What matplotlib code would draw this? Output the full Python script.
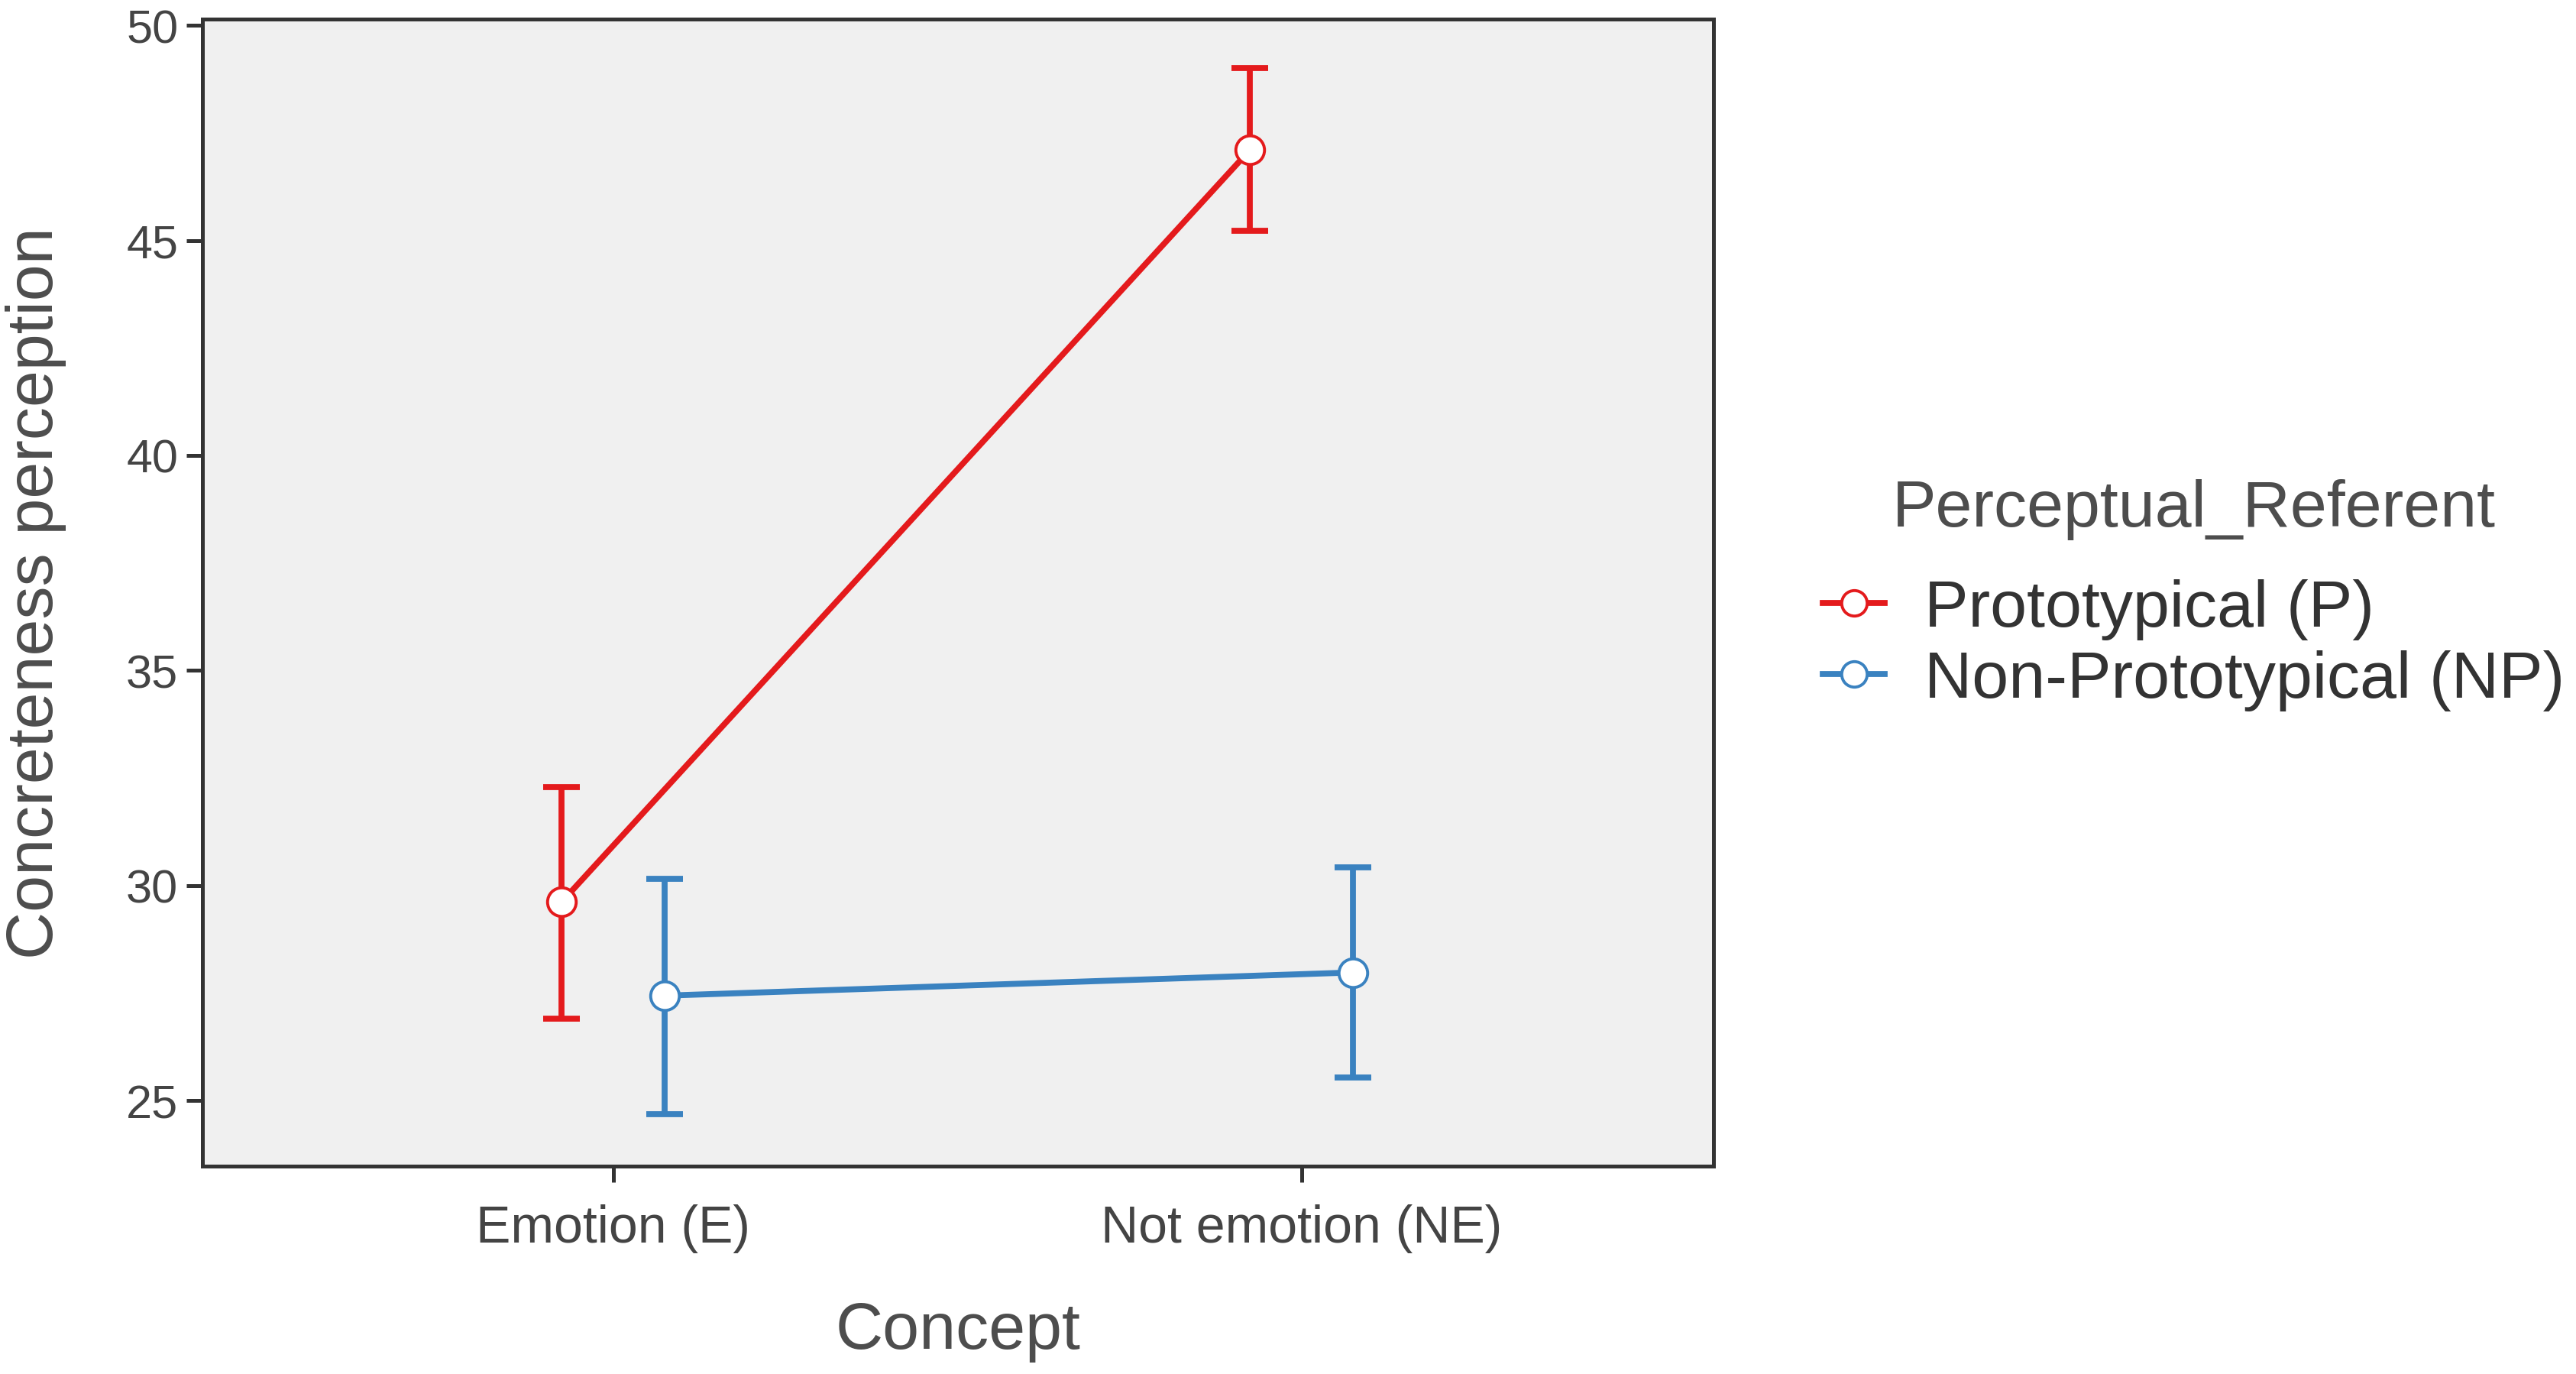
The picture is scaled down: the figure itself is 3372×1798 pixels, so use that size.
import numpy as np
import matplotlib
matplotlib.use('Agg')
import matplotlib.pyplot as plt
from matplotlib.lines import Line2D

plt.rcParams['font.family'] = ['Liberation Sans', 'DejaVu Sans']

concepts = ['Emotion (E)', 'Not emotion (NE)']
groups = ['Prototypical (P)', 'Non-Prototypical (NP)']
colors = ['#e41a1c', '#3a82c0']

# means and 95% CI bounds
p_mean = [29.62, 47.10]
p_low = [26.91, 45.23]
p_high = [32.29, 49.00]

np_mean = [27.44, 27.98]
np_low = [24.69, 25.53]
np_high = [30.15, 30.42]

means = [p_mean, np_mean]
lows = [p_low, np_low]
highs = [p_high, np_high]
dodge = [-0.075, 0.075]

fig = plt.figure(figsize=(16.865, 8.995), dpi=200)
ax = fig.add_axes([0.0786, 0.151, 0.665 - 0.0786, 0.9857 - 0.151])
ax.set_facecolor('#f0f0f0')

x = np.arange(len(concepts))
handles = []
for i in range(len(groups)):
    m = np.array(means[i])
    lo = m - np.array(lows[i])
    hi = np.array(highs[i]) - m
    xs = x + dodge[i]
    ax.errorbar(xs, m, yerr=[lo, hi], fmt='none', ecolor=colors[i],
                elinewidth=2.8, capsize=8.5, capthick=2.8, zorder=2)
    ax.plot(xs, m, color=colors[i], lw=2.8, zorder=3)
    ax.plot(xs, m, 'o', ms=13.5, mfc='white', mec=colors[i], mew=1.4, zorder=4)
    handles.append(Line2D([], [], color=colors[i], lw=2.8, marker='o', ms=12,
                          mfc='white', mec=colors[i], mew=1.4))

ax.set_xlim(-0.597, 1.599)
ax.set_ylim(23.47, 50.15)
ax.set_xticks(x)
ax.set_xticklabels(concepts)
ax.set_yticks([25, 30, 35, 40, 45, 50])

for s in ax.spines.values():
    s.set_color('#333333')
    s.set_linewidth(1.8)

ax.tick_params(axis='both', direction='out', length=7.5, width=1.8, color='#333333',
               labelcolor='#444444')
ax.tick_params(axis='y', labelsize=22, pad=4)
ax.tick_params(axis='x', labelsize=24.5, pad=10)

ax.set_xlabel('Concept', fontsize=31, color='#4d4d4d')
ax.set_ylabel('Concreteness perception', fontsize=31, color='#4d4d4d')
ax.xaxis.set_label_coords(0.5, -0.117)
ax.yaxis.set_label_coords(-0.090, 0.5)

leg = ax.legend(handles, groups, title='Perceptual_Referent', loc='center left',
                bbox_to_anchor=(0.6945, 0.567), bbox_transform=fig.transFigure,
                frameon=False, fontsize=31, title_fontsize=31, borderpad=0,
                handlelength=0.95, handletextpad=0.6, labelspacing=0.15)
leg.get_title().set_color('#4d4d4d')
for t in leg.get_texts():
    t.set_color('#333333')
leg._legend_box.sep = 18.5

fig.savefig('out.png', dpi=200, facecolor='white')
